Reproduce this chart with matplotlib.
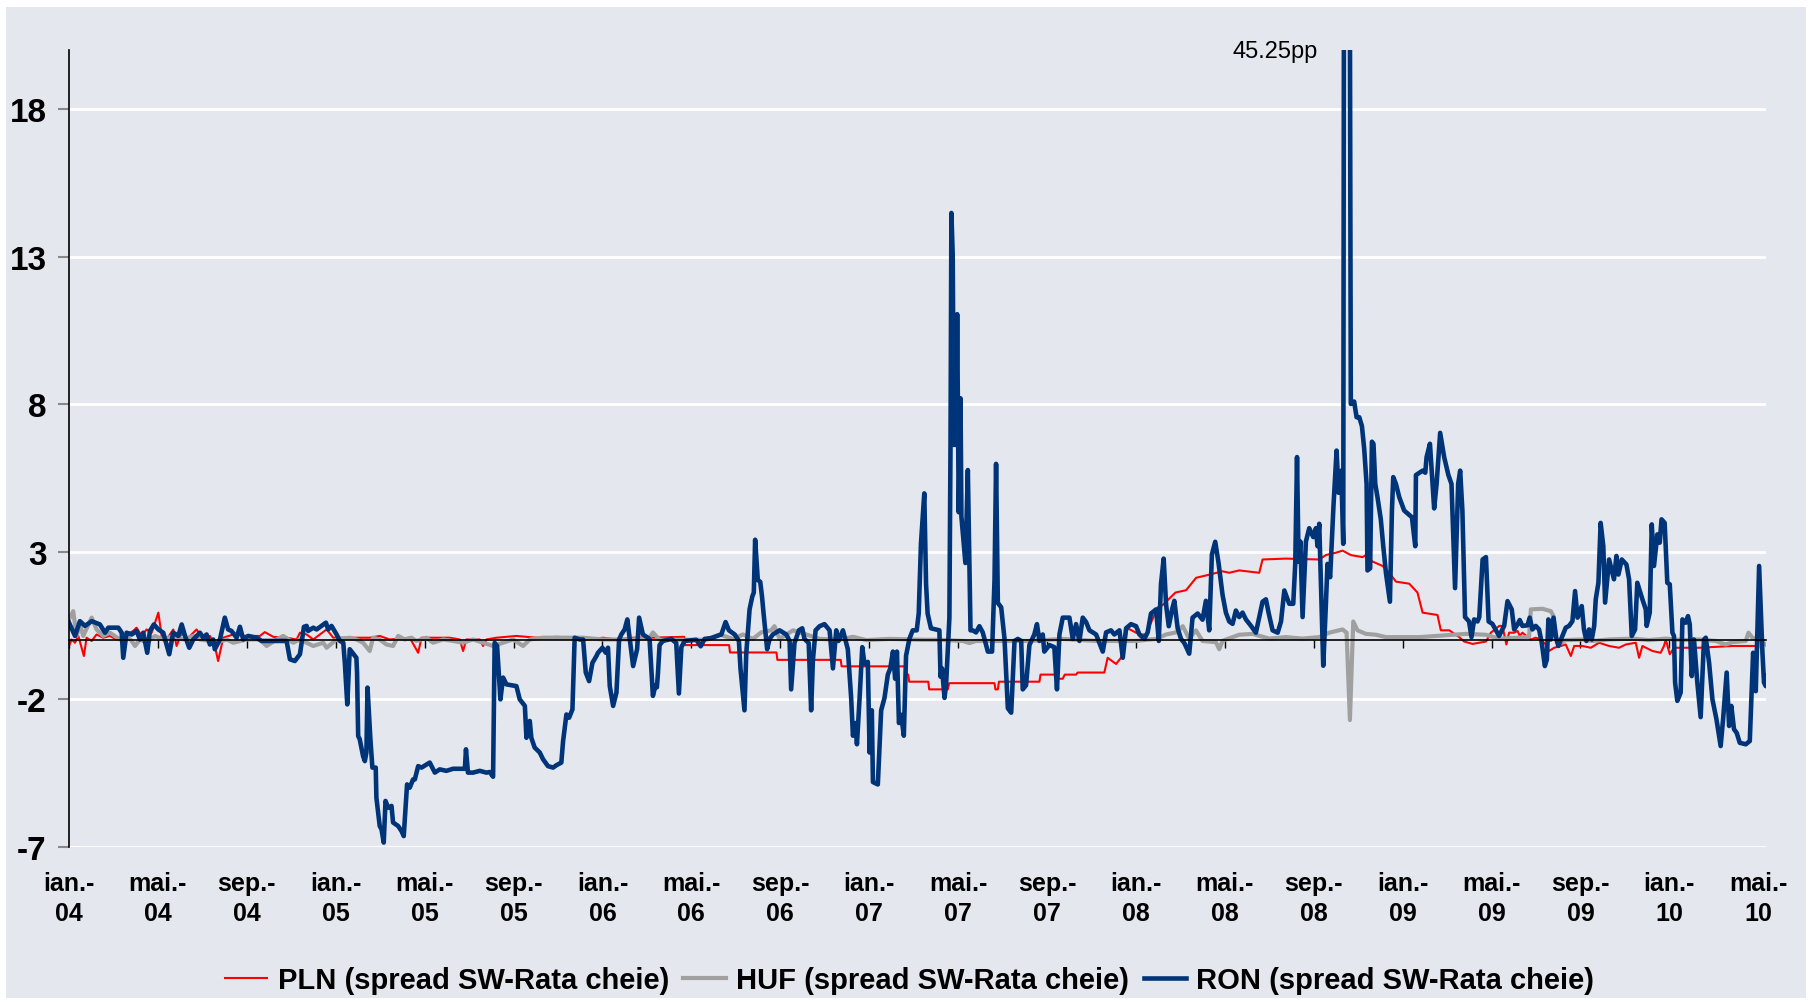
import numpy as np
import matplotlib
matplotlib.use("Agg")
import matplotlib.pyplot as plt
from matplotlib.patches import Rectangle

plt.rcParams["font.family"] = ["Liberation Sans", "DejaVu Sans"]

# x = months since ian. 2004, y = spread (pp)
pln_pts = [
    (0.00, -0.19), (0.12, 0.03), (0.27, -0.08), (0.42, 0.15), (0.67, -0.53), (0.79, 0.09),
    (1.02, -0.02), (1.24, 0.20), (1.54, 0.09), (1.84, 0.15), (2.14, 0.03), (2.59, 0.20),
    (2.89, 0.32), (3.04, 0.43), (3.27, 0.15), (3.49, 0.37), (3.72, 0.26), (4.02, 0.94),
    (4.17, 0.15), (4.39, 0.03), (4.69, 0.37), (4.84, -0.19), (5.07, 0.26), (5.29, 0.03),
    (5.74, 0.37), (6.04, 0.03), (6.34, 0.15), (6.56, -0.19), (6.71, -0.70), (6.94, 0.09),
    (7.39, 0.20), (7.99, 0.15), (8.59, 0.15), (8.81, 0.28), (9.19, 0.12), (9.79, 0.09),
    (10.24, 0.03), (10.39, 0.26), (10.69, 0.20), (10.99, 0.03), (11.59, 0.37), (11.89, 0.09),
    (12.63, 0.09), (13.53, 0.09), (13.98, 0.15), (14.43, 0.03), (15.33, 0.09), (15.71, -0.42),
    (15.86, 0.09), (17.13, 0.09), (17.58, 0.03), (17.73, -0.36), (17.88, 0.03), (18.48, 0.03),
    (18.63, -0.19), (18.78, 0.03), (19.23, 0.09), (20.13, 0.15), (21.03, 0.09), (21.93, 0.12),
    (22.83, 0.09), (23.28, 0.03), (24.03, 0.09), (24.63, 0.03), (25.37, 0.09), (26.12, 0.09),
    (27.68, 0.12), (27.72, -0.16), (29.70, -0.16), (29.74, -0.41), (31.83, -0.41), (31.87, -0.66),
    (34.72, -0.66), (34.76, -0.88), (37.64, -0.88), (37.68, -1.16), (37.76, -1.16), (37.80, -1.40),
    (38.66, -1.40), (38.70, -1.66), (39.54, -1.66), (39.60, -1.45), (41.64, -1.45), (41.68, -1.66),
    (41.79, -1.66), (41.84, -1.40), (43.66, -1.40), (43.71, -1.16), (44.41, -1.16), (44.50, -1.30),
    (44.71, -1.30), (44.80, -1.16), (45.31, -1.16), (45.38, -1.09), (46.58, -1.09), (46.73, -0.59),
    (47.11, -0.80), (47.33, -0.59), (47.63, 0.41), (48.16, 0.20), (48.46, 0.20), (48.61, 0.48),
    (48.98, 1.12), (49.21, 1.20), (49.78, 1.62), (50.26, 1.70), (50.71, 2.12), (51.16, 2.20),
    (51.90, 2.34), (52.20, 2.29), (52.65, 2.37), (53.55, 2.29), (53.70, 2.74), (54.75, 2.77),
    (56.25, 2.74), (56.55, 2.89), (57.00, 2.97), (57.30, 3.04), (57.67, 2.89), (58.20, 2.82),
    (58.35, 2.89), (58.65, 2.67), (59.10, 2.52), (59.40, 2.29), (59.70, 1.99), (60.30, 1.92),
    (60.67, 1.62), (60.90, 0.94), (61.57, 0.86), (61.72, 0.34), (62.10, 0.34), (62.55, 0.11),
    (62.77, -0.04), (63.15, -0.12), (63.75, -0.04), (63.97, 0.26), (64.35, 0.49), (64.49, 0.49),
    (64.67, -0.14), (64.79, 0.26), (65.02, 0.26), (65.17, 0.32), (65.27, 0.15), (65.39, 0.26),
    (65.77, 0.03), (65.99, 0.09), (66.22, 0.03), (66.44, -0.14), (66.59, -0.36), (66.82, -0.25),
    (67.12, -0.19), (67.34, -0.14), (67.57, -0.53), (67.72, -0.19), (68.09, -0.19), (68.47, -0.25),
    (68.84, -0.08), (69.29, -0.19), (69.74, -0.25), (70.04, -0.14), (70.49, -0.08), (70.64, -0.59),
    (70.79, -0.19), (71.24, -0.36), (71.61, -0.42), (71.76, -0.19), (71.84, 0.03), (72.02, -0.47),
    (72.21, -0.25), (73.34, -0.25), (74.84, -0.19), (75.89, -0.19),
]

huf_pts = [
    (0.00, 0.71), (0.19, 0.99), (0.34, 0.15), (0.49, 0.54), (0.64, 0.15), (1.02, 0.77),
    (1.24, 0.37), (1.54, 0.15), (1.84, 0.26), (2.29, 0.03), (2.59, 0.15), (2.82, -0.02),
    (2.97, -0.19), (3.19, 0.03), (3.49, -0.08), (3.87, 0.15), (4.24, 0.03), (4.69, 0.15),
    (5.14, 0.03), (5.59, 0.15), (5.89, 0.03), (6.34, -0.02), (6.64, -0.08), (7.09, 0.03),
    (7.39, -0.08), (7.99, 0.03), (8.59, 0.03), (8.89, -0.19), (9.34, 0.03), (9.64, 0.15),
    (10.09, -0.08), (10.39, 0.03), (10.99, -0.19), (11.44, -0.08), (11.59, -0.25), (12.04, 0.03),
    (12.63, 0.09), (12.93, 0.03), (13.23, -0.08), (13.53, -0.36), (13.68, 0.09), (13.98, 0.03),
    (14.28, -0.14), (14.58, -0.19), (14.81, 0.15), (15.11, 0.03), (15.41, 0.09), (15.63, -0.02),
    (16.08, 0.09), (16.38, -0.08), (16.83, 0.03), (17.28, -0.02), (17.73, -0.08), (18.18, 0.03),
    (18.63, -0.08), (19.08, -0.19), (19.53, -0.08), (19.98, 0.03), (20.43, -0.19), (20.73, 0.03),
    (21.33, 0.09), (22.23, 0.09), (23.13, 0.09), (24.03, 0.03), (24.63, 0.03), (25.37, 0.03),
    (26.12, 0.09), (26.27, 0.27), (26.57, 0.02), (28.67, 0.02), (29.27, 0.20), (29.87, 0.05),
    (30.32, 0.20), (30.77, 0.05), (31.14, 0.27), (31.59, 0.34), (31.74, 0.48), (31.97, 0.05),
    (32.57, 0.34), (33.17, 0.20), (33.77, 0.05), (34.67, 0.02), (35.27, 0.12), (35.87, 0.01),
    (36.92, 0.05), (38.42, 0.02), (39.16, 0.02), (40.21, -0.02), (40.51, -0.09), (40.81, -0.02),
    (43.21, -0.02), (44.71, 0.05), (46.21, -0.02), (48.01, -0.02), (48.91, 0.05), (49.36, 0.20),
    (49.81, 0.27), (50.11, 0.48), (50.40, 0.05), (50.70, 0.34), (51.00, -0.02), (51.60, -0.06),
    (51.75, -0.30), (51.90, -0.02), (52.05, 0.03), (52.65, 0.19), (53.25, 0.22), (54.00, 0.06),
    (54.75, 0.11), (55.50, 0.06), (56.25, 0.11), (56.70, 0.26), (57.30, 0.37), (57.48, 0.26),
    (57.63, -2.70), (57.78, 0.64), (57.97, 0.34), (58.35, 0.22), (58.80, 0.19), (59.25, 0.11),
    (60.75, 0.11), (62.25, 0.19), (62.85, 0.22), (63.75, 0.19), (64.34, 0.06), (65.24, 0.09),
    (65.69, 0.12), (65.77, 1.05), (66.29, 1.07), (66.67, 0.99), (66.79, 0.82), (66.89, 0.09),
    (67.12, -0.08), (67.34, 0.01), (68.09, 0.03), (68.54, -0.02), (69.29, 0.03), (70.34, 0.06),
    (71.09, 0.01), (71.84, 0.06), (72.59, 0.01), (73.34, 0.03), (74.09, -0.02), (74.54, -0.14),
    (74.84, -0.06), (75.44, -0.02), (75.56, 0.26), (75.74, 0.09), (76.04, 0.03), (76.34, -0.14),
]

ron_pts = [
    (0.00, 0.60), (0.27, 0.15), (0.49, 0.65), (0.72, 0.49), (1.02, 0.65), (1.39, 0.54),
    (1.62, 0.26), (1.77, 0.43), (2.22, 0.43), (2.37, 0.26), (2.44, -0.59), (2.59, 0.26),
    (2.82, 0.20), (3.04, 0.32), (3.19, 0.03), (3.34, 0.26), (3.52, -0.42), (3.64, 0.32),
    (3.82, 0.54), (4.02, 0.37), (4.24, 0.26), (4.51, -0.47), (4.69, 0.26), (4.92, 0.15),
    (5.07, 0.54), (5.22, 0.15), (5.41, -0.25), (5.59, 0.03), (5.89, 0.26), (6.04, 0.09),
    (6.19, 0.20), (6.34, -0.14), (6.49, 0.03), (6.56, -0.30), (6.79, 0.03), (7.01, 0.77),
    (7.16, 0.37), (7.31, 0.32), (7.54, 0.09), (7.69, 0.46), (7.84, 0.03), (8.06, 0.15),
    (8.44, 0.09), (8.66, -0.02), (9.79, -0.02), (9.94, -0.64), (10.16, -0.70), (10.39, -0.47),
    (10.57, 0.46), (10.69, 0.49), (10.76, 0.32), (10.99, 0.43), (11.14, 0.37), (11.36, 0.49),
    (11.56, 0.60), (11.66, 0.37), (11.81, 0.49), (12.04, 0.20), (12.19, -0.02), (12.34, -0.08),
    (12.41, -0.76), (12.52, -2.17), (12.63, -0.30), (12.93, -0.59), (12.96, -1.09), (13.01, -3.24),
    (13.08, -3.35), (13.23, -3.92), (13.31, -4.09), (13.38, -3.80), (13.43, -1.60), (13.56, -3.35),
    (13.65, -4.31), (13.80, -4.31), (13.83, -5.33), (13.98, -6.29), (14.06, -6.40), (14.16, -6.85),
    (14.24, -5.44), (14.36, -5.67), (14.51, -5.61), (14.58, -6.17), (14.81, -6.29), (14.96, -6.46),
    (15.06, -6.63), (15.21, -4.88), (15.33, -4.99), (15.48, -4.71), (15.56, -4.71), (15.71, -4.26),
    (15.86, -4.31), (16.23, -4.14), (16.46, -4.48), (16.68, -4.37), (16.98, -4.42), (17.28, -4.35),
    (17.81, -4.35), (17.86, -3.69), (17.95, -4.48), (18.18, -4.48), (18.48, -4.42), (18.78, -4.48),
    (18.93, -4.46), (19.08, -4.62), (19.15, -0.08), (19.26, -0.19), (19.41, -2.00), (19.53, -1.26),
    (19.68, -1.49), (20.13, -1.55), (20.28, -2.00), (20.51, -2.22), (20.58, -3.30), (20.73, -2.73),
    (20.80, -3.30), (20.95, -3.63), (21.18, -3.80), (21.33, -4.03), (21.55, -4.26), (21.78, -4.31),
    (21.93, -4.23), (22.15, -4.14), (22.23, -3.41), (22.38, -2.51), (22.50, -2.62), (22.65, -2.34),
    (22.75, 0.09), (22.98, 0.03), (23.13, 0.03), (23.25, -1.09), (23.40, -1.38), (23.55, -0.76),
    (23.73, -0.53), (23.80, -0.42), (24.00, -0.25), (24.15, -0.42), (24.25, -0.25), (24.33, -1.55),
    (24.48, -2.22), (24.63, -1.77), (24.75, 0.03), (24.85, 0.20), (25.00, 0.37), (25.12, 0.71),
    (25.23, 0.03), (25.38, -0.87), (25.56, -0.30), (25.65, 0.77), (25.82, 0.20), (26.12, 0.05),
    (26.27, -1.88), (26.39, -1.52), (26.45, -1.59), (26.50, -1.09), (26.57, -0.16), (26.72, -0.02),
    (27.10, 0.05), (27.32, -0.09), (27.44, -1.80), (27.55, -0.23), (27.70, -0.02), (28.22, 0.02),
    (28.42, -0.20), (28.60, 0.05), (28.90, 0.08), (29.35, 0.20), (29.54, 0.62), (29.69, 0.34),
    (29.95, 0.20), (30.14, -0.02), (30.21, -0.95), (30.39, -2.37), (30.47, -0.45), (30.55, 0.34),
    (30.62, 1.05), (30.74, 1.48), (30.81, 1.62), (30.87, 3.41), (30.99, 2.05), (31.10, 1.98),
    (31.18, 1.48), (31.25, 0.91), (31.41, -0.30), (31.52, 0.05), (31.67, 0.20), (31.97, 0.34),
    (32.27, 0.20), (32.42, -0.02), (32.49, -1.66), (32.64, -0.09), (32.84, 0.34), (32.99, 0.41),
    (33.09, 0.05), (33.28, -0.09), (33.39, -2.37), (33.47, -0.66), (33.59, 0.34), (33.77, 0.48),
    (33.99, 0.55), (34.22, 0.34), (34.37, -0.95), (34.52, 0.34), (34.62, -0.02), (34.82, 0.34),
    (35.04, -0.30), (35.19, -1.95), (35.27, -3.23), (35.39, -2.80), (35.45, -3.52), (35.57, -1.95),
    (35.69, -0.23), (35.79, -0.80), (35.94, -0.73), (36.02, -3.80), (36.12, -2.37), (36.17, -4.80),
    (36.39, -4.88), (36.54, -2.37), (36.69, -1.95), (36.84, -1.16), (36.95, -0.95), (37.07, -0.38),
    (37.17, -1.30), (37.25, -0.38), (37.34, -2.80), (37.44, -2.52), (37.56, -3.23), (37.66, -0.52),
    (37.81, 0.05), (37.96, 0.34), (38.14, 0.34), (38.23, 0.91), (38.33, 3.27), (38.48, 4.98),
    (38.56, 1.91), (38.63, 0.91), (38.78, 0.41), (39.16, 0.34), (39.21, -1.23), (39.28, -0.95),
    (39.39, -1.95), (39.46, -1.52), (39.61, 0.77), (39.66, 6.62), (39.70, 14.48), (39.76, 13.05),
    (39.81, 6.62), (39.88, 10.91), (39.91, 6.62), (39.96, 11.05), (40.03, 4.34), (40.11, 8.20),
    (40.15, 4.20), (40.33, 2.62), (40.44, 5.77), (40.51, 2.62), (40.56, 0.34), (40.66, 0.34),
    (40.81, 0.27), (40.96, 0.48), (41.11, 0.27), (41.34, -0.38), (41.53, -0.38), (41.64, 2.05),
    (41.71, 5.98), (41.79, 1.27), (41.94, 1.12), (42.09, 0.05), (42.24, -2.30), (42.39, -2.45),
    (42.54, -0.02), (42.69, 0.05), (42.84, -0.02), (42.91, -1.66), (43.06, -1.52), (43.21, -0.16),
    (43.43, 0.20), (43.55, 0.55), (43.66, -0.02), (43.81, 0.20), (43.88, -0.38), (44.11, -0.16),
    (44.33, -0.23), (44.45, -1.66), (44.56, 0.20), (44.71, 0.77), (45.01, 0.77), (45.16, 0.05),
    (45.31, 0.55), (45.46, -0.02), (45.61, 0.77), (45.76, 0.62), (45.91, 0.34), (46.21, 0.20),
    (46.51, -0.38), (46.66, 0.27), (46.88, 0.34), (47.03, 0.20), (47.26, 0.34), (47.41, -0.59),
    (47.56, 0.41), (47.78, 0.55), (48.01, 0.48), (48.16, 0.20), (48.38, 0.05), (48.53, 0.27),
    (48.68, 0.91), (48.91, 1.05), (49.03, -0.02), (49.13, 1.91), (49.25, 2.77), (49.36, 1.20),
    (49.48, 0.48), (49.63, 1.05), (49.73, 1.34), (49.88, 0.41), (50.03, 0.05), (50.18, -0.09),
    (50.40, -0.45), (50.55, 0.77), (50.78, 0.91), (51.00, 0.70), (51.15, 1.34), (51.30, 0.34),
    (51.42, 2.91), (51.57, 3.34), (51.72, 2.62), (51.90, 1.54), (52.05, 0.94), (52.20, 0.64),
    (52.35, 0.56), (52.50, 1.01), (52.65, 0.79), (52.80, 0.94), (52.95, 0.71), (53.18, 0.49),
    (53.40, 0.26), (53.55, 0.79), (53.70, 1.31), (53.85, 1.39), (53.97, 0.94), (54.15, 0.34),
    (54.38, 0.26), (54.53, 0.64), (54.68, 1.69), (54.90, 1.24), (55.08, 1.24), (55.17, 2.59),
    (55.25, 6.21), (55.32, 2.67), (55.40, 3.35), (55.50, 0.79), (55.65, 3.35), (55.80, 3.80),
    (55.98, 3.50), (56.10, 3.80), (56.17, 3.19), (56.25, 3.95), (56.43, -0.86), (56.55, 1.24),
    (56.62, 2.59), (56.74, 2.14), (56.89, 4.55), (57.03, 6.43), (57.12, 5.00), (57.24, 5.75),
    (57.33, 3.27), (57.40, 45.25), (57.56, 44.00), (57.67, 8.01), (57.82, 8.09), (57.93, 7.56),
    (58.05, 7.56), (58.17, 7.26), (58.27, 6.51), (58.38, 5.30), (58.42, 2.37), (58.54, 2.44),
    (58.62, 6.73), (58.69, 6.66), (58.77, 5.30), (58.87, 4.85), (59.02, 4.10), (59.13, 3.19),
    (59.25, 2.29), (59.43, 1.31), (59.52, 4.40), (59.58, 5.53), (59.70, 5.30), (59.85, 4.85),
    (60.07, 4.40), (60.30, 4.25), (60.42, 4.17), (60.57, 3.19), (60.60, 5.60), (60.90, 5.75),
    (61.02, 5.68), (61.08, 6.21), (61.23, 6.66), (61.42, 4.47), (61.53, 5.30), (61.69, 7.03),
    (61.87, 6.21), (62.06, 5.60), (62.20, 5.30), (62.36, 1.77), (62.50, 5.30), (62.59, 5.75),
    (62.69, 4.40), (62.81, 0.79), (62.99, 0.64), (63.10, 0.11), (63.22, 0.71), (63.37, 0.64),
    (63.45, 0.79), (63.60, 2.74), (63.75, 2.82), (63.87, 0.64), (64.04, 0.56), (64.34, 0.15),
    (64.57, 0.49), (64.72, 1.33), (64.91, 1.05), (65.02, 0.37), (65.17, 0.54), (65.27, 0.69),
    (65.39, 0.49), (65.62, 0.51), (65.72, 0.77), (65.84, 0.37), (65.99, 0.49), (66.14, 0.37),
    (66.26, -0.08), (66.40, -0.87), (66.49, -0.65), (66.56, 0.71), (66.67, 0.03), (66.79, 0.77),
    (66.92, 0.03), (67.01, -0.19), (67.19, 0.15), (67.34, 0.43), (67.49, 0.49), (67.64, 0.65),
    (67.76, 1.67), (67.87, 0.77), (68.06, 1.16), (68.16, 0.37), (68.27, -0.02), (68.39, 0.37),
    (68.51, 0.03), (68.62, 0.49), (68.69, 1.39), (68.81, 1.95), (68.91, 3.98), (69.03, 3.19),
    (69.11, 1.28), (69.29, 2.74), (69.51, 2.07), (69.62, 2.86), (69.71, 2.23), (69.86, 2.74),
    (70.07, 2.57), (70.19, 2.07), (70.31, 0.15), (70.46, 0.37), (70.56, 1.95), (70.79, 1.39),
    (70.94, 1.05), (70.98, 0.49), (71.12, 0.94), (71.21, 3.93), (71.31, 2.52), (71.46, 3.59),
    (71.57, 3.31), (71.65, 4.10), (71.79, 3.98), (71.91, 1.95), (72.02, 1.90), (72.14, 0.26),
    (72.21, 0.15), (72.26, -1.43), (72.36, -2.05), (72.51, -1.77), (72.59, 0.71), (72.74, 0.60),
    (72.84, 0.82), (72.92, 0.54), (73.01, -1.21), (73.11, 0.03), (73.26, -1.43), (73.41, -2.60),
    (73.56, 0.03), (73.64, 0.09), (73.79, -0.76), (73.94, -2.00), (74.12, -2.67), (74.31, -3.58),
    (74.42, -2.67), (74.58, -1.09), (74.69, -2.90), (74.79, -2.22), (74.91, -3.01), (75.03, -3.13),
    (75.17, -3.47), (75.44, -3.52), (75.62, -3.41), (75.77, -0.42), (75.89, -1.72), (76.04, 2.52),
    (76.19, -0.42), (76.26, -1.43), (76.34, -1.55), (76.37, -1.21),
]

series = [
    ("PLN (spread SW-Rata cheie)", pln_pts, "#ff0000", 1.5),
    ("HUF (spread SW-Rata cheie)", huf_pts, "#a0a0a0", 3.0),
    ("RON (spread SW-Rata cheie)", ron_pts, "#003479", 3.3),
]

tick_months = list(range(0, 77, 4))
tick_labels = ["ian.-\n04", "mai.-\n04", "sep.-\n04", "ian.-\n05", "mai.-\n05", "sep.-\n05",
               "ian.-\n06", "mai.-\n06", "sep.-\n06", "ian.-\n07", "mai.-\n07", "sep.-\n07",
               "ian.-\n08", "mai.-\n08", "sep.-\n08", "ian.-\n09", "mai.-\n09", "sep.-\n09",
               "ian.-\n10", "mai.-\n10"]
y_ticks = [-7, -2, 3, 8, 13, 18]
bg = "#e4e8ee"

W, H = 1810, 1003
fig = plt.figure(figsize=(W / 100, H / 100), dpi=100, facecolor="white")
fig.patches.append(Rectangle((6 / W, 4 / H), 1800 / W, 991 / H, transform=fig.transFigure,
                             facecolor=bg, edgecolor="none", zorder=-10))

ax = fig.add_axes([69 / W, 1 - 848 / H, (1766 - 69) / W, (848 - 51) / H])
ax.set_facecolor(bg)

handles = []
for name, pts, color, lw in series:
    arr = np.array(pts)
    h, = ax.plot(arr[:, 0], arr[:, 1], color=color, lw=lw, label=name, solid_joinstyle="round")
    handles.append(h)

ax.set_xlim(0, 76.35)
ax.set_ylim(-7, 20)

ax.set_yticks(y_ticks, labels=[str(v) for v in y_ticks])
ax.grid(axis="y", color="white", lw=2)
ax.set_axisbelow(True)
ax.tick_params(axis="y", length=8, width=1.5, color="#888888", pad=8)
for lab in ax.get_yticklabels():
    lab.set_fontsize(24)
    lab.set_fontweight("bold")

for s in ["top", "right"]:
    ax.spines[s].set_visible(False)
ax.spines["left"].set_color("black")
ax.spines["left"].set_linewidth(1.2)
ax.spines["bottom"].set_position(("data", 0))
ax.spines["bottom"].set_color("black")
ax.spines["bottom"].set_linewidth(1.2)
ax.set_xticks(tick_months)
ax.tick_params(axis="x", length=6, width=1, color="black", direction="out", labelbottom=False)

sec = ax.secondary_xaxis("bottom")
sec.set_xticks(tick_months, labels=tick_labels)
sec.tick_params(length=0, pad=17)
sec.spines["bottom"].set_visible(False)
for lab in sec.get_xticklabels():
    lab.set_fontsize(18)
    lab.set_fontweight("bold")
    lab.set_linespacing(1.35)

ax.text(56.2, 19.95, "45.25pp", ha="right", va="center", fontsize=17, clip_on=False)

fig.legend(handles=handles, loc="center", bbox_to_anchor=(0.5025, 1 - 981 / H), ncol=3,
           frameon=False, handlelength=1.45, handletextpad=0.35, columnspacing=0.5,
           prop={"size": 21, "weight": "bold"})

fig.savefig("out.png", dpi=100, facecolor="white")
